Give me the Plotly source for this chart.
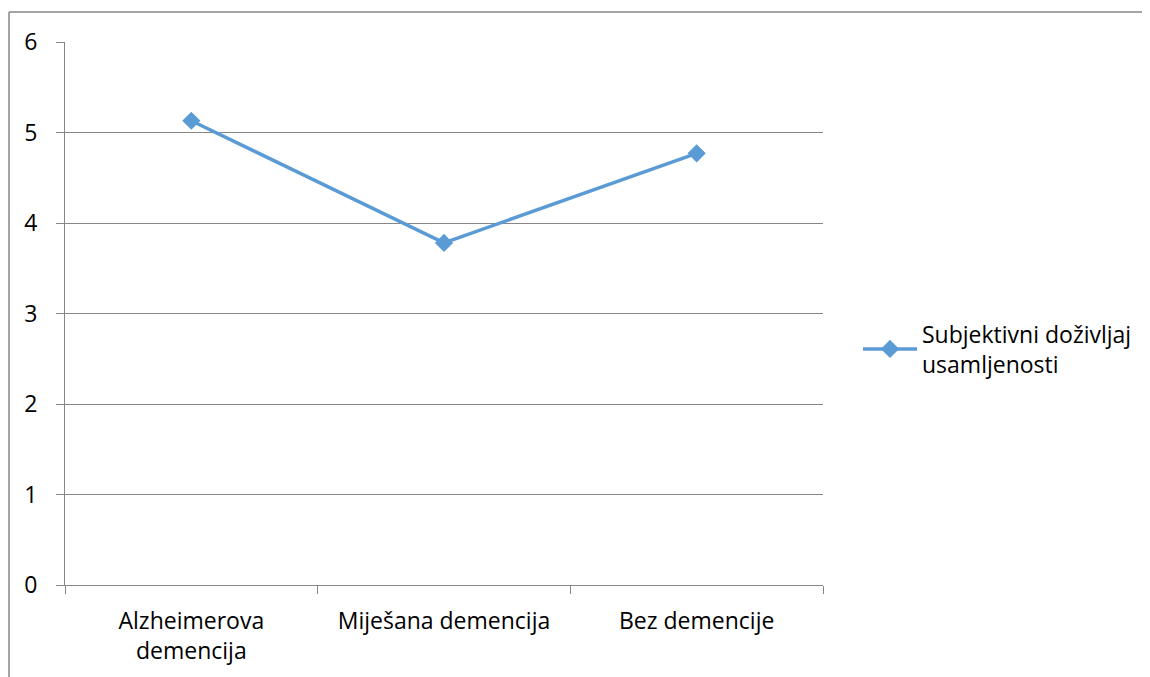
import plotly.graph_objects as go

categories = ["Alzheimerova<br>demencija", "Miješana demencija", "Bez demencije"]
values = [5.13, 3.78, 4.77]
series_name = "Subjektivni doživljaj<br>usamljenosti"
y_ticks = [0, 1, 2, 3, 4, 5, 6]

OFF = 8  # page body margin in the browser
W, H = 1150 - OFF, 677 - OFF
L, R, T, B = 65 - OFF, 823 - OFF, 42 - OFF, 585 - OFF
pw, ph = R - L, B - T

def px_x(x):
    return (x - OFF - L) / pw

def px_y(y):
    return (B - (y - OFF)) / ph

FONT = "'Open Sans', Calibri, Carlito, sans-serif"
GRID = "#868686"
BLUE = "#5B9BD5"

fig = go.Figure()
fig.add_trace(go.Scatter(
    x=categories, y=values, mode="lines+markers", name=series_name,
    line=dict(color=BLUE, width=3.5),
    marker=dict(symbol="diamond", size=14, color=BLUE),
))

fig.update_layout(
    width=W, height=H,
    margin=dict(l=L, r=W - R, t=T, b=H - B, pad=0),
    paper_bgcolor="white", plot_bgcolor="white",
    font=dict(family=FONT, size=23, color="black"),
    showlegend=True,
    legend=dict(x=px_x(858), y=px_y(349), xanchor="left", yanchor="middle",
                font=dict(size=23), itemwidth=54, bgcolor="rgba(0,0,0,0)"),
    xaxis=dict(range=[-0.5, 2.5], showgrid=False, showline=True, linecolor=GRID, linewidth=1,
               ticks="outside", tickson="boundaries", ticklen=8, tickcolor=GRID, tickwidth=1,
               ticklabelstandoff=15, fixedrange=True),
    yaxis=dict(range=[0, 6], tickvals=y_ticks, showgrid=True, gridcolor=GRID, gridwidth=1,
               showline=True, linecolor=GRID, linewidth=1, zeroline=False,
               ticks="outside", ticklen=8, tickcolor=GRID, tickwidth=1,
               ticklabelstandoff=14, fixedrange=True),
)

# chart area frame (top and left edges visible)
fig.add_shape(type="line", xref="paper", yref="paper",
              x0=px_x(9), x1=px_x(1160), y0=px_y(12), y1=px_y(12),
              line=dict(color=GRID, width=1.5))
fig.add_shape(type="line", xref="paper", yref="paper",
              x0=px_x(9), x1=px_x(9), y0=px_y(12), y1=px_y(690),
              line=dict(color=GRID, width=1.5))

fig.write_html("out.html")
